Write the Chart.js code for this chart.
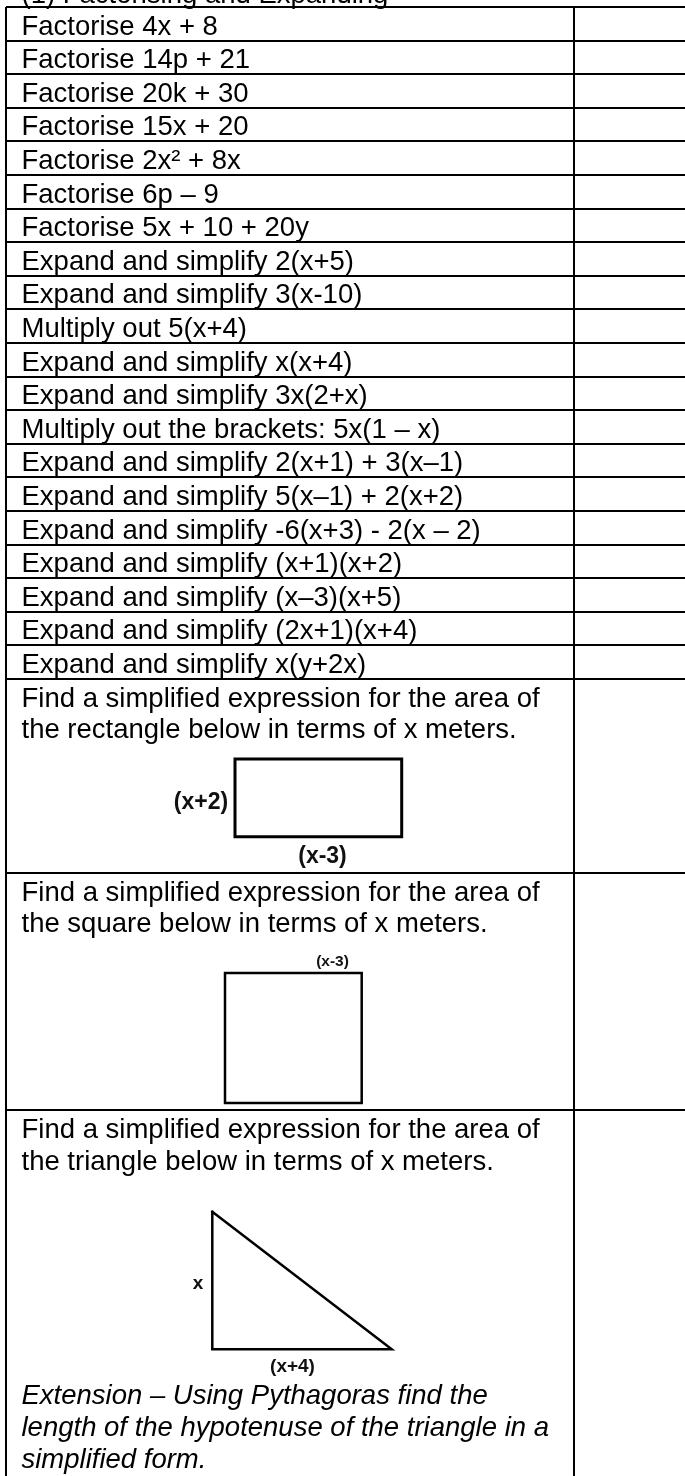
<!DOCTYPE html>
<html>
<head>
<meta charset="utf-8">
<script src="https://cdn.jsdelivr.net/npm/chart.js@4.4.1/dist/chart.umd.min.js"></script>
<style>
html,body{margin:0;padding:0;background:#fff;}
#wrap{position:relative;width:685px;height:1476px;}
</style>
</head>
<body>
<div id="wrap"><canvas id="c"></canvas></div>
<script>
// ---------- DATA ----------
const sectionTitle = "(1) Factorising and Expanding";
const questions = [
  "Factorise 4x + 8",
  "Factorise 14p + 21",
  "Factorise 20k + 30",
  "Factorise 15x + 20",
  "Factorise 2x² + 8x",
  "Factorise 6p – 9",
  "Factorise 5x + 10 + 20y",
  "Expand and simplify 2(x+5)",
  "Expand and simplify 3(x-10)",
  "Multiply out 5(x+4)",
  "Expand and simplify x(x+4)",
  "Expand and simplify 3x(2+x)",
  "Multiply out the brackets: 5x(1 – x)",
  "Expand and simplify 2(x+1) + 3(x–1)",
  "Expand and simplify 5(x–1) + 2(x+2)",
  "Expand and simplify -6(x+3) - 2(x – 2)",
  "Expand and simplify (x+1)(x+2)",
  "Expand and simplify (x–3)(x+5)",
  "Expand and simplify (2x+1)(x+4)",
  "Expand and simplify x(y+2x)"
];
const rectangleQuestion = ["Find a simplified expression for the area of", "the rectangle below in terms of x meters."];
const squareQuestion = ["Find a simplified expression for the area of", "the square below in terms of x meters."];
const triangleQuestion = ["Find a simplified expression for the area of", "the triangle below in terms of x meters."];
const extensionText = ["Extension – Using Pythagoras find the", "length of the hypotenuse of the triangle in a", "simplified form."];
const rectangleLabels = ["(x+2)", "(x-3)"];
const squareLabels = ["(x-3)"];
const triangleLabels = ["x", "(x+4)"];

// ---------- LAYOUT (page units = px) ----------
const L = {
  left: 6, top: 7, right: 685, bottom: 1476, divider: 574,
  simpleRowH: 33.6, figureRowH: [194, 237.4],
  textX: 21.5, baseline: 27.5, lineH: 31.7, fontPx: 27.5
};
const rowBounds = [L.top];
questions.forEach(() => rowBounds.push(rowBounds[rowBounds.length - 1] + L.simpleRowH));
L.figureRowH.forEach(h => rowBounds.push(rowBounds[rowBounds.length - 1] + h));
const rectTop = rowBounds[questions.length];
const squareTop = rowBounds[questions.length + 1];
const triTop = rowBounds[questions.length + 2];

const shapes = {
  rect: { x0: 235, x1: 401.7, y0: 759, y1: 836.7 },
  square: { x0: 225, x1: 361.7, y0: 973, y1: 1103 },
  tri: { x0: 212.3, x1: 391.7, y0: 1211.7, y1: 1349.3 }
};
const labelPos = {
  rect: [{ x: 201, y: 803, size: 23 }, { x: 322.5, y: 857, size: 23 }],
  square: [{ x: 332.5, y: 962, size: 15.5 }],
  tri: [{ x: 198, y: 1284, size: 19 }, { x: 292.5, y: 1367, size: 19 }]
};
const extensionBaselines = [1404.3, 1436, 1467.7];

function boxPts(s) {
  return [{x:s.x0,y:s.y0},{x:s.x1,y:s.y0},{x:s.x1,y:s.y1},{x:s.x0,y:s.y1},{x:s.x0,y:s.y0}];
}
function triPts(s) {
  return [{x:s.x0,y:s.y0},{x:s.x0,y:s.y1},{x:s.x1,y:s.y1},{x:s.x0,y:s.y0}];
}

const FONT = '"Liberation Sans", Arial, sans-serif';

const textPlugin = {
  id: 'worksheetText',
  afterDraw(chart) {
    const { ctx, scales: { x, y } } = chart;
    const px = v => x.getPixelForValue(v);
    const py = v => y.getPixelForValue(v);
    ctx.save();
    ctx.fillStyle = '#000';
    ctx.textAlign = 'left';
    ctx.textBaseline = 'alphabetic';
    ctx.font = L.fontPx + 'px ' + FONT;
    // section title (cut off at top)
    ctx.fillText(sectionTitle, px(L.textX), py(3));
    questions.forEach((q, i) => {
      ctx.fillText(q, px(L.textX), py(rowBounds[i] + L.baseline));
    });
    const multi = [[rectangleQuestion, rectTop], [squareQuestion, squareTop], [triangleQuestion, triTop]];
    multi.forEach(([lines, top]) => {
      lines.forEach((t, k) => ctx.fillText(t, px(L.textX), py(top + L.baseline + k * L.lineH)));
    });
    ctx.font = 'italic ' + L.fontPx + 'px ' + FONT;
    extensionText.forEach((t, k) => ctx.fillText(t, px(L.textX), py(extensionBaselines[k])));
    // figure labels
    ctx.textAlign = 'center';
    ctx.textBaseline = 'middle';
    ctx.fillStyle = '#111';
    const lab = (arr, pos) => arr.forEach((t, k) => {
      ctx.font = 'bold ' + pos[k].size + 'px ' + FONT;
      ctx.fillText(t, px(pos[k].x), py(pos[k].y));
    });
    lab(rectangleLabels, labelPos.rect);
    lab(squareLabels, labelPos.square);
    lab(triangleLabels, labelPos.tri);
    ctx.restore();
  }
};

function shapeDataset(data, w) {
  return {
    type: 'scatter', data, showLine: true, fill: false,
    borderColor: '#000', borderWidth: w, pointRadius: 0, pointHoverRadius: 0,
    borderJoinStyle: 'miter', borderCapStyle: 'square', tension: 0
  };
}

function build() {
  new Chart(document.getElementById('c'), {
    type: 'scatter',
    data: {
      datasets: [
        shapeDataset(boxPts(shapes.rect), 3),
        shapeDataset(boxPts(shapes.square), 2.5),
        shapeDataset(triPts(shapes.tri), 2.5)
      ]
    },
    options: {
      responsive: true,
      maintainAspectRatio: false,
      animation: false,
      devicePixelRatio: 1,
      events: [],
      layout: { padding: { left: L.left, top: L.top, right: 0, bottom: 0 }, autoPadding: false },
      plugins: { legend: { display: false }, tooltip: { enabled: false }, title: { display: false } },
      scales: {
        x: {
          type: 'linear', min: L.left, max: L.right,
          ticks: { display: false },
          grid: { color: '#000', lineWidth: 2, drawTicks: false },
          border: { display: false },
          afterBuildTicks: a => { a.ticks = [L.left, L.divider].map(v => ({ value: v })); }
        },
        y: {
          type: 'linear', min: L.top, max: L.bottom, reverse: true,
          ticks: { display: false },
          grid: { color: '#000', lineWidth: 2, drawTicks: false },
          border: { display: false },
          afterBuildTicks: a => { a.ticks = rowBounds.map(v => ({ value: v })); }
        }
      }
    },
    plugins: [textPlugin]
  });
}

const fontLoads = [
  document.fonts.load(L.fontPx + 'px "Liberation Sans"'),
  document.fonts.load('italic ' + L.fontPx + 'px "Liberation Sans"'),
  document.fonts.load('bold 20px "Liberation Sans"')
];
Promise.all(fontLoads).then(build, build);
</script>
</body>
</html>
